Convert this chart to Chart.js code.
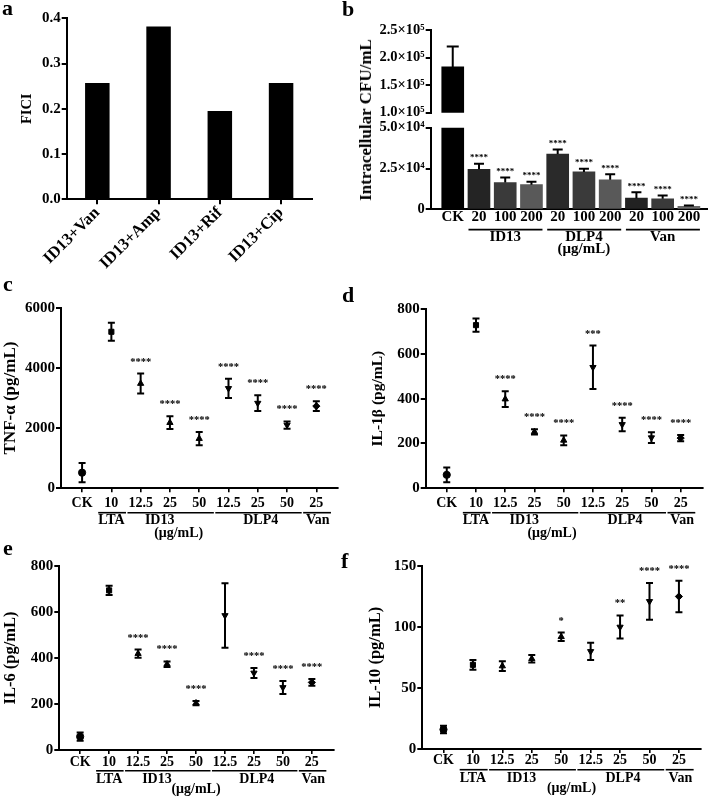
<!DOCTYPE html>
<html>
<head>
<meta charset="utf-8">
<script src="https://cdn.jsdelivr.net/npm/chart.js@4.4.1/dist/chart.umd.min.js"></script>
<style>
  body { margin: 0; background: #fff; }
  #page { position: relative; width: 708px; height: 803px; overflow: hidden;
          font-family: "Liberation Serif", "Times New Roman", serif; font-weight: bold; color: #000; }
  canvas { position: absolute; }
  .tag { position: absolute; font-size: 22px; line-height: 22px; }
  #bTitle { position: absolute; left: 365.5px; top: 120px; font-size: 17px; white-space: nowrap;
            transform: translate(-50%, -50%) rotate(-90deg); }
</style>
</head>
<body>
<div id="page">
  <canvas id="chartA" width="354" height="270" style="left:0;top:0"></canvas>
  <canvas id="chartBTop" width="354" height="124" style="left:354px;top:0"></canvas>
  <canvas id="chartBLow" width="354" height="150" style="left:354px;top:112px"></canvas>
  <canvas id="chartC" width="354" height="270" style="left:0;top:280px"></canvas>
  <canvas id="chartD" width="354" height="270" style="left:354px;top:280px"></canvas>
  <canvas id="chartE" width="354" height="253" style="left:0;top:550px"></canvas>
  <canvas id="chartF" width="354" height="253" style="left:354px;top:550px"></canvas>

  <div class="tag" style="left:2px;top:-3px">a</div>
  <div class="tag" style="left:342px;top:-2px">b</div>
  <div class="tag" style="left:3px;top:273px">c</div>
  <div class="tag" style="left:342px;top:284px">d</div>
  <div class="tag" style="left:3px;top:537px">e</div>
  <div class="tag" style="left:341px;top:550px">f</div>
  <div id="bTitle">Intracellular CFU/mL</div>
</div>

<script>
// ---------- data ----------
const ficiLabels = ['ID13+Van', 'ID13+Amp', 'ID13+Rif', 'ID13+Cip'];
const ficiValues = [0.257, 0.382, 0.195, 0.257];
const ficiTicks = [0, 0.1, 0.2, 0.3, 0.4];

const cfuLabels = ['CK', '20', '100', '200', '20', '100', '200', '20', '100', '200'];
const cfuMeans = [183000, 24500, 16400, 15100, 33900, 22900, 18100, 6800, 6400, 1800];
const cfuSd = [37000, 3400, 3100, 1800, 2700, 2000, 3400, 3600, 2000, 600];
const cfuStars = ['', '****', '****', '****', '****', '****', '****', '****', '****', '****'];
const cfuLowTicks = [0, 25000, 50000];
const cfuLowTickLabels = ['0', '2.5×10⁴', '5.0×10⁴'];
const cfuHighTicks = [100000, 150000, 200000, 250000];
const cfuHighTickLabels = ['1.0×10⁵', '1.5×10⁵', '2.0×10⁵', '2.5×10⁵'];
const cfuGroups = ['ID13', 'DLP4', 'Van'];
const cfuGroupStart = [1, 4, 7];
const cfuGroupEnd = [3, 6, 9];

const doseLabels = ['CK', '10', '12.5', '25', '50', '12.5', '25', '50', '25'];
const doseGroups = ['LTA', 'ID13', 'DLP4', 'Van'];
const doseGroupStart = [1, 2, 5, 8];
const doseGroupEnd = [1, 4, 7, 8];

const tnfMeans = [520, 5200, 3480, 2180, 1650, 3320, 2830, 2100, 2730];
const tnfSd = [320, 300, 330, 210, 220, 320, 260, 120, 160];
const tnfStars = ['', '', '****', '****', '****', '****', '****', '****', '****'];

const il1bMeans = [60, 728, 398, 252, 214, 540, 285, 226, 224];
const il1bSd = [33, 30, 35, 12, 22, 97, 30, 24, 14];
const il1bStars = ['', '', '****', '****', '****', '***', '****', '****', '****'];

const il6Means = [58, 694, 419, 373, 204, 585, 335, 272, 294];
const il6Sd = [18, 20, 18, 12, 9, 140, 22, 28, 15];
const il6Stars = ['', '', '****', '****', '****', '', '****', '****', '****'];

const il10Means = [16, 69, 68, 74, 92, 80, 100, 121, 125];
const il10Sd = [3, 4, 4, 3, 3.5, 7, 9.5, 15, 13];
const il10Stars = ['', '', '', '', '*', '', '**', '****', '****'];

// ---------- styles ----------
const SERIF = '"Liberation Serif", "Times New Roman", serif';
const cfuColors = ['#000', '#242424', '#3a3a3a', '#595959', '#2a2a2a', '#3a3a3a', '#595959', '#222', '#3a3a3a', '#6a6a6a'];
const markerStyles = ['circle', 'rect', 'triangle', 'triangle', 'triangle', 'triangle', 'triangle', 'triangle', 'rectRot'];
const markerTurn = [0, 0, 0, 0, 0, 180, 180, 180, 0];

Chart.defaults.font.family = SERIF;
Chart.defaults.font.weight = 'bold';
Chart.defaults.font.size = 14;
Chart.defaults.color = '#000';
Chart.defaults.animation = false;
Chart.defaults.plugins.legend.display = false;
Chart.defaults.plugins.tooltip.enabled = false;

const axisGrid = { drawOnChartArea: false, tickLength: 5, color: '#000', lineWidth: 2 };
const axisBorder = { color: '#000', width: 2 };

// error bars + significance stars, drawn from the scales
function errorBars(means, sds, stars, cfg) {
  return {
    id: 'errorBars',
    afterDatasetsDraw(chart) {
      const { ctx, chartArea: a, scales: { x, y } } = chart;
      ctx.save();
      ctx.beginPath();
      ctx.rect(a.left, a.top - 2, a.width, a.height + 2);
      ctx.clip();
      ctx.strokeStyle = '#000';
      ctx.lineWidth = 2;
      means.forEach((m, i) => {
        const px = x.getPixelForValue(i);
        const hi = y.getPixelForValue(m + sds[i]);
        const lo = y.getPixelForValue(cfg.upOnly ? m : m - sds[i]);
        ctx.beginPath();
        ctx.moveTo(px, lo);
        ctx.lineTo(px, hi);
        ctx.moveTo(px - cfg.cap, hi);
        ctx.lineTo(px + cfg.cap, hi);
        if (!cfg.upOnly) {
          ctx.moveTo(px - cfg.cap, lo);
          ctx.lineTo(px + cfg.cap, lo);
        }
        ctx.stroke();
      });
      ctx.restore();

      ctx.save();
      ctx.fillStyle = '#000';
      ctx.font = `bold ${cfg.starSize}px ${SERIF}`;
      ctx.textAlign = 'center';
      ctx.textBaseline = 'middle';
      stars.forEach((s, i) => {
        const top = means[i] + sds[i];
        if (!s || top > y.max) return;
        ctx.fillText(s, x.getPixelForValue(i), y.getPixelForValue(top) - cfg.starGap);
      });
      ctx.restore();
    }
  };
}

// underlined group names under the x axis
function groupAxis(names, starts, ends, cfg) {
  return {
    id: 'groupAxis',
    afterDraw(chart) {
      const { ctx, chartArea: a, scales: { x } } = chart;
      ctx.save();
      ctx.strokeStyle = '#000';
      ctx.fillStyle = '#000';
      ctx.lineWidth = 1.6;
      ctx.font = `bold ${cfg.size}px ${SERIF}`;
      ctx.textAlign = 'center';
      ctx.textBaseline = 'middle';
      names.forEach((n, i) => {
        const x1 = x.getPixelForValue(starts[i] - cfg.padL);
        const x2 = x.getPixelForValue(ends[i] + cfg.padR);
        ctx.beginPath();
        ctx.moveTo(x1, a.bottom + cfg.lineY);
        ctx.lineTo(x2, a.bottom + cfg.lineY);
        ctx.stroke();
        ctx.fillText(n, x.getPixelForValue(cfg.labelAt[i]), a.bottom + cfg.nameY);
      });
      ctx.fillText('(μg/mL)', x.getPixelForValue(cfg.unitAt), a.bottom + cfg.unitY);
      ctx.restore();
    }
  };
}

// ---------- a: FICI ----------
new Chart(document.getElementById('chartA'), {
  type: 'bar',
  data: {
    labels: ficiLabels,
    datasets: [{ data: ficiValues, backgroundColor: '#000', barPercentage: 0.4, categoryPercentage: 1 }]
  },
  options: {
    responsive: false,
    layout: { padding: { left: 19, top: 18.3, right: 42.3, bottom: 0 } },
    scales: {
      x: {
        grid: { ...axisGrid, offset: false },
        border: axisBorder,
        ticks: { minRotation: 45, maxRotation: 45, font: { size: 16.5 }, padding: -1 },
        afterFit: s => { s.height = 70.7; }
      },
      y: {
        min: 0, max: 0.4,
        afterBuildTicks: s => { s.ticks = ficiTicks.map(v => ({ value: v })); },
        ticks: { callback: v => v.toFixed(1), font: { size: 15 }, padding: 1 },
        grid: axisGrid,
        border: axisBorder,
        title: { display: true, text: 'FICI', font: { size: 14.5 }, padding: 0 },
        afterFit: s => { s.width = 47.7; }
      }
    }
  }
});

// ---------- b: intracellular CFU (broken axis = two charts) ----------
function cfuChart(id, yMin, yMax, ticks, tickLabels, padTop, padBottom, showX) {
  return new Chart(document.getElementById(id), {
    type: 'bar',
    data: {
      datasets: [{
        data: cfuMeans.map((m, i) => ({ x: i, y: m })),
        backgroundColor: cfuColors,
        barThickness: 22,
        clip: 0
      }]
    },
    options: {
      responsive: false,
      layout: { padding: { left: 0, top: padTop, right: 1, bottom: padBottom } },
      scales: {
        x: {
          type: 'linear', min: -0.84, max: 9.69, offset: false, display: showX,
          afterBuildTicks: s => { s.ticks = cfuLabels.map((_, i) => ({ value: i })); },
          ticks: { callback: (v, i) => cfuLabels[i], font: { size: 15 }, padding: -1, autoSkip: false, maxRotation: 0 },
          grid: { ...axisGrid, drawTicks: false },
          border: axisBorder,
          afterFit: s => { s.height = showX ? 52.7 : 0; }
        },
        y: {
          min: yMin, max: yMax,
          afterBuildTicks: s => { s.ticks = ticks.map(v => ({ value: v })); },
          ticks: { callback: (v, i) => tickLabels[i], font: { size: 14.5 }, padding: 1, autoSkip: false },
          grid: axisGrid,
          border: axisBorder,
          afterFit: s => { s.width = 76.7; }
        }
      }
    },
    plugins: showX
      ? [errorBars(cfuMeans, cfuSd, cfuStars, { upOnly: true, cap: 5, starSize: 9, starGap: 6 }),
         groupAxis(cfuGroups, cfuGroupStart, cfuGroupEnd,
           { size: 15, padL: 0.4, padR: 0.42, lineY: 20.3, nameY: 27.7, unitY: 39.7, labelAt: [2, 5, 8], unitAt: 5 })]
      : [errorBars(cfuMeans, cfuSd, [], { upOnly: true, cap: 6, starSize: 9, starGap: 6 })]
  });
}
cfuChart('chartBTop', 100000, 250000, cfuHighTicks, cfuHighTickLabels, 30, 11.3, false);
cfuChart('chartBLow', 0, 50000, cfuLowTicks, cfuLowTickLabels, 15.7, 0, true);

// ---------- c-f: cytokines ----------
function cytokineChart(id, means, sds, stars, g) {
  return new Chart(document.getElementById(id), {
    type: 'scatter',
    data: {
      datasets: [{
        data: means.map((m, i) => ({ x: i, y: m })),
        pointStyle: markerStyles,
        rotation: markerTurn,
        pointRadius: 3.6,
        backgroundColor: '#000',
        borderColor: '#000',
        borderWidth: 1,
        clip: false
      }]
    },
    options: {
      responsive: false,
      layout: { padding: { left: g.padL, top: g.padT, right: g.padR, bottom: 0 } },
      scales: {
        x: {
          type: 'linear', min: -0.72, max: 8.74,
          afterBuildTicks: s => { s.ticks = doseLabels.map((_, i) => ({ value: i })); },
          ticks: { callback: (v, i) => doseLabels[i], font: { size: 14 }, padding: g.tickPad, autoSkip: false, maxRotation: 0 },
          grid: { ...axisGrid, tickLength: 4, lineWidth: 1.6 },
          border: axisBorder,
          afterFit: s => { s.height = g.xH; }
        },
        y: {
          min: 0, max: g.max,
          ticks: { stepSize: g.step, callback: v => String(v), font: { size: 15 }, padding: 1 },
          grid: axisGrid,
          border: axisBorder,
          title: { display: true, text: g.title, font: { size: g.titleSize }, padding: 0 },
          afterFit: s => { s.width = g.yW; }
        }
      }
    },
    plugins: [
      errorBars(means, sds, stars, { upOnly: false, cap: 3.5, starSize: 10.5, starGap: 11.7 }),
      groupAxis(doseGroups, doseGroupStart, doseGroupEnd,
        { size: 14, padL: 0.45, padR: 0.5, lineY: g.lineY, nameY: g.nameY, unitY: g.unitY,
          labelAt: [1, 2.65, 6.1, 8.05], unitAt: g.unitAt })
    ]
  });
}

cytokineChart('chartC', tnfMeans, tnfSd, tnfStars, {
  padL: 0, padT: 27.7, padR: 16, yW: 61, xH: 61.7, max: 6000, step: 2000,
  title: 'TNF-α (pg/mL)', titleSize: 17, tickPad: 2.6, lineY: 24.4, nameY: 32.4, unitY: 45, unitAt: 3.3
});
cytokineChart('chartD', il1bMeans, il1bSd, il1bStars, {
  padL: 14.2, padT: 29, padR: 5.7, yW: 57.5, xH: 61.7, max: 800, step: 200,
  title: 'IL-1β (pg/mL)', titleSize: 15.5, tickPad: 2.6, lineY: 24.4, nameY: 32.4, unitY: 45, unitAt: 3.6
});
cytokineChart('chartE', il6Means, il6Sd, il6Stars, {
  padL: 1.1, padT: 16, padR: 20.7, yW: 58.2, xH: 53, max: 800, step: 200,
  title: 'IL-6 (pg/mL)', titleSize: 16.5, tickPad: -0.2, lineY: 20.8, nameY: 29, unitY: 39.2, unitAt: 4.0
});
cytokineChart('chartF', il10Means, il10Sd, il10Stars, {
  padL: 11.8, padT: 16, padR: 7.3, yW: 56.5, xH: 54, max: 150, step: 50,
  title: 'IL-10 (pg/mL)', titleSize: 16.5, tickPad: -0.7, lineY: 20.7, nameY: 29, unitY: 39, unitAt: 4.35
});
</script>
</body>
</html>
